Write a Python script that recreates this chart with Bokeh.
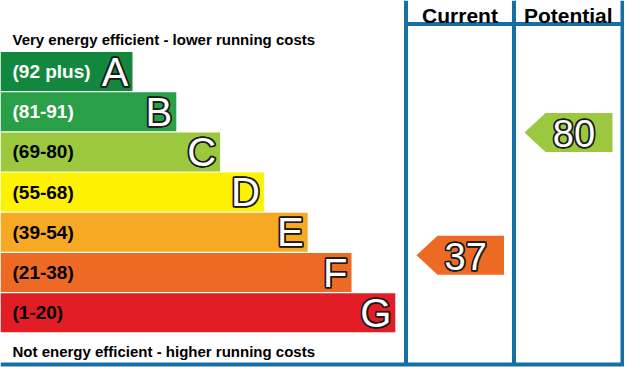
from bokeh.plotting import figure
from bokeh.models import Range1d, ColumnDataSource
from bokeh.core.properties import value
from bokeh.embed import file_html
from bokeh.resources import INLINE

# ---- data ----
bands = ["A", "B", "C", "D", "E", "F", "G"]
range_labels = ["(92 plus)", "(81-91)", "(69-80)", "(55-68)", "(39-54)", "(21-38)", "(1-20)"]
band_low = [92, 81, 69, 55, 39, 21, 1]
band_high = [100, 91, 80, 68, 54, 38, 20]
band_colors = ["#12873e", "#29a047", "#9bc83e", "#fff200", "#f7a924", "#ec6a24", "#e21d26"]
label_colors = ["white", "white", "black", "black", "black", "black", "black"]
columns = ["Current", "Potential"]
ratings = [37, 80]
top_note = "Very energy efficient - lower running costs"
bottom_note = "Not energy efficient - higher running costs"

# ---- layout (pixels, in window coordinates) ----
W, H = 624, 367
BLUE = "#156fa3"
FONT = "Liberation Sans"
DARK = "#1a1a1a"
bar_left = 8
bar_h = 39.0
bar_step = 40.2
first_center = 79.0
first_right = 140.0
right_step = 43.8
col_edges = [413.5, 521.5, 630.0]
line_top = 8
line_bottom = 372
halo = [(-1, -1), (-1, 0), (-1, 1), (0, -1), (0, 1), (1, -1), (1, 0), (1, 1)]

p = figure(width=W, height=H, output_backend="svg", toolbar_location=None,
           x_range=Range1d(8, 8 + W), y_range=Range1d(8 + H, 8),
           min_border=0)
p.axis.visible = False
p.grid.visible = False
p.outline_line_color = None
p.background_fill_color = "white"
p.border_fill_color = "white"

centers = [first_center + bar_step * i for i in range(len(bands))]
rights = [first_right + right_step * i for i in range(len(bands))]

src = ColumnDataSource(dict(
    left=[bar_left] * len(bands), right=rights,
    top=[c - bar_h / 2 for c in centers], bottom=[c + bar_h / 2 for c in centers],
    yc=centers, band=bands, rng=range_labels, fill=band_colors, lab=label_colors,
    lx=[20] * len(bands), bx=[r - 4 for r in rights],
))
p.quad(left="left", right="right", top="top", bottom="bottom", fill_color="fill",
       line_color=None, source=src)
p.text(x="lx", y="yc", text="rng", text_color="lab", text_font=value(FONT),
       text_font_style="bold", text_font_size="19px", text_baseline="middle",
       text_align="left", source=src)


def outlined(x, y, text, size, align, source=None):
    kw = dict(text_font=value(FONT), text_font_size=size, text_baseline="middle", text_align=align)
    if source is not None:
        kw["source"] = source
    for dx, dy in halo:
        p.text(x=x, y=y, text=text, text_color=DARK, text_outline_color=DARK,
               x_offset=dx, y_offset=dy, **kw)
    p.text(x=x, y=y, text=text, text_color="white", **kw)


outlined("bx", "yc", "band", "40px", "right", source=src)

# notes
p.text(x=[20], y=[47], text=[top_note], text_font=value(FONT), text_font_style="bold",
       text_font_size="15px", text_baseline="alphabetic", text_color="black")
p.text(x=[20], y=[359], text=[bottom_note], text_font=value(FONT), text_font_style="bold",
       text_font_size="15px", text_baseline="alphabetic", text_color="black")

# frame lines
for x in col_edges:
    p.segment(x0=[x], y0=[line_top], x1=[x], y1=[line_bottom], line_color=BLUE, line_width=4)
p.segment(x0=[col_edges[0]], y0=[31.5], x1=[col_edges[2]], y1=[31.5], line_color=BLUE, line_width=4)
p.segment(x0=[8], y0=[line_bottom], x1=[col_edges[2] + 2], y1=[line_bottom], line_color=BLUE, line_width=4)

# headers
hx = [(col_edges[i] + col_edges[i + 1]) / 2 for i in range(2)]
p.text(x=hx, y=[23, 23], text=columns, text_font=value(FONT), text_font_style="bold",
       text_font_size="21px", text_baseline="alphabetic", text_align="center", text_color="black")

# rating arrows
xs, ys, fills, tx, ty, tt = [], [], [], [], [], []
for i, r in enumerate(ratings):
    b = next(k for k in range(len(bands)) if band_low[k] <= r <= band_high[k])
    frac = (r - band_low[b]) / (band_high[b] - band_low[b])
    cy = centers[b] + bar_h * (0.5 - frac)
    left_tip = col_edges[i] + 10.5
    body = left_tip + 21
    right = col_edges[i + 1] - 10
    xs.append([left_tip, body, right, right, body])
    ys.append([cy, cy - bar_h / 2, cy - bar_h / 2, cy + bar_h / 2, cy + bar_h / 2])
    fills.append(band_colors[b])
    tx.append((body + right) / 2 - 5)
    ty.append(cy + 1)
    tt.append(str(r))
p.patches(xs=xs, ys=ys, fill_color=fills, line_color=None)
outlined(tx, ty, tt, "38px", "center")

open("out.html", "w").write(file_html(p, INLINE))
